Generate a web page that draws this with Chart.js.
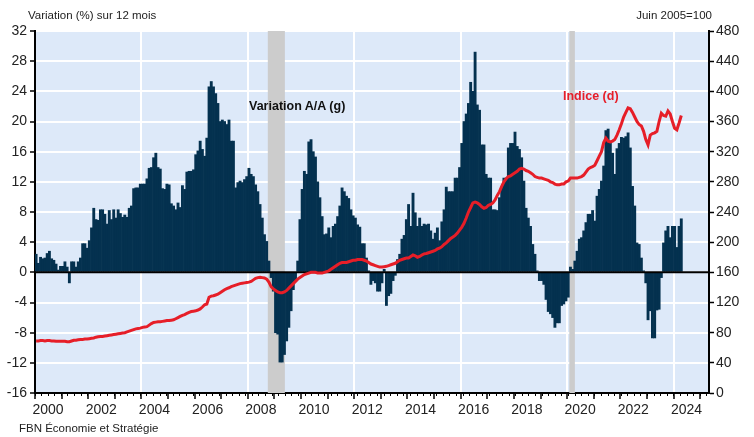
<!DOCTYPE html>
<html>
<head>
<meta charset="utf-8">
<script src="https://cdn.jsdelivr.net/npm/chart.js@4.4.1/dist/chart.umd.min.js"></script>
<style>
  body { margin: 0; background: #fff; }
  #wrap { position: relative; width: 754px; height: 437px; font-family: "Liberation Sans", Arial, sans-serif; }
  #chart { position: absolute; left: 0; top: 0; }
  .txt { position: absolute; white-space: nowrap; line-height: 1; }
</style>
</head>
<body>
<div id="wrap">
  <canvas id="chart" width="754" height="437"></canvas>
  <div class="txt" style="left:28px; top:10px; font-size:11.5px; color:#222;">Variation (%) sur 12 mois</div>
  <div class="txt" style="right:42px; top:10px; font-size:11.5px; color:#222;">Juin 2005=100</div>
  <div class="txt" style="left:249px; top:100px; font-size:12.5px; font-weight:bold; color:#111;">Variation A/A (g)</div>
  <div class="txt" style="left:563px; top:90px; font-size:12.5px; font-weight:bold; color:#e61e28;">Indice (d)</div>
  <div class="txt" style="left:19px; top:423px; font-size:11.5px; color:#222;">FBN Économie et Stratégie</div>
</div>
<script>
// ------------------ Data --------------------

var firstYear = 2000;   // monthly data, first point = Jan 2000
var axisEnd = 304;      // x axis ends ~ Apr 2025 (months since Jan 2000)

// variation sur 12 mois (%) - one line per year
var variation = [
  2.4, 1.2, 2.0, 1.8, 1.9, 2.5, 2.8, 1.8, 1.6, 1.1, 0.3, 0.8,
  0.8, 1.4, 0.7, -1.4, 1.4, 1.4, 0.7, 1.4, 1.9, 3.8, 3.8, 3.2,
  4.2, 5.9, 8.5, 7.0, 6.9, 8.3, 8.3, 7.7, 6.4, 8.2, 7.0, 8.3,
  7.2, 8.3, 7.8, 7.3, 7.6, 7.3, 8.5, 8.8, 11.1, 11.2, 11.2, 11.7,
  11.7, 11.7, 12.4, 13.8, 13.9, 15.2, 15.8, 13.9, 13.7, 11.1, 11.0, 11.7,
  11.6, 9.1, 8.8, 8.3, 9.2, 8.6, 11.5, 11.0, 13.3, 13.4, 13.4, 13.6,
  15.6, 16.1, 17.4, 16.3, 15.4, 17.8, 24.6, 25.3, 24.6, 23.7, 22.4, 20.0,
  20.2, 20.0, 19.6, 20.2, 17.4, 17.4, 11.2, 11.9, 12.1, 11.9, 12.3, 12.7,
  13.8, 13.0, 12.7, 11.6, 10.7, 9.0, 7.2, 5.0, 4.1, 1.5, -0.7, -2.5,
  -8.0, -8.2, -11.9, -11.9, -10.9, -9.1, -7.3, -5.1, -2.3, -1.1, 1.5, 7.0,
  11.0, 13.4, 13.0, 17.3, 17.6, 16.0, 15.3, 12.0, 9.9, 7.4, 5.0, 5.1,
  5.9, 4.6, 6.1, 6.4, 7.4, 8.8, 11.2, 10.7, 10.1, 9.8, 8.3, 7.5,
  7.2, 6.3, 6.0, 3.8, 3.8, 1.9, 0.2, -1.6, -1.1, -1.4, -2.5, -2.5,
  -1.4, 0.4, -4.4, -3.1, -2.8, -1.1, -0.4, 1.7, 2.4, 4.4, 4.9, 7.0,
  9.0, 6.1, 10.5, 7.9, 6.1, 7.2, 6.1, 6.4, 6.3, 6.4, 5.5, 4.4,
  5.2, 5.9, 4.2, 6.7, 8.3, 11.3, 10.7, 10.7, 10.7, 12.5, 12.5, 13.9,
  17.1, 20.0, 21.0, 22.4, 25.2, 24.0, 29.2, 22.2, 21.5, 16.9, 16.9, 13.0,
  12.5, 12.5, 8.3, 8.3, 8.2, 9.9, 11.3, 12.5, 12.5, 16.5, 17.1, 17.1,
  18.6, 16.7, 16.3, 15.2, 12.1, 8.5, 7.2, 6.1, 3.7, 2.4, 0.2, -1.1,
  -1.1, -1.6, -3.6, -5.2, -5.5, -6.0, -7.3, -6.7, -6.7, -4.4, -4.2, -3.8,
  -3.3, 0.7, 0.4, 1.5, 2.8, 4.4, 4.6, 5.5, 6.6, 7.7, 7.7, 8.2,
  6.8, 10.1, 11.0, 12.1, 14.1, 18.8, 19.0, 17.1, 15.8, 13.0, 16.4, 17.1,
  17.9, 17.8, 18.0, 18.5, 16.5, 11.4, 8.8, 3.9, 3.7, 1.9, 0.2, -1.4,
  -6.3, -5.1, -8.7, -8.7, -5.0, -4.9, -0.7, 3.9, 5.5, 6.1, 4.6, 6.1,
  6.1, 3.3, 6.1, 7.1
];

// indice (juin 2005=100) - right axis
var indice = [
  69, 69, 69.5, 69.5, 69, 69.5, 69.5, 69, 69, 68.5, 68.5, 68.5,
  68.5, 68.5, 68, 68, 69, 70, 70, 70.5, 71, 71, 71.5, 71.5,
  72, 72.5, 73, 74, 74.5, 75, 75, 75.5, 76, 76.5, 77, 77.5,
  78, 78.5, 79, 79.5, 80, 81, 82, 83, 84, 85, 85.5, 86,
  87, 87.5, 88, 90, 92, 93.5, 94, 94.5, 94.5, 95, 95.5, 96,
  96, 96.5, 97, 98.5, 100, 101.5, 103, 104, 105.5, 107, 108, 108.5,
  109, 110, 111.5, 114, 117, 118, 127, 128.5, 129, 130, 131, 133,
  135, 137, 138.5, 139.5, 141, 142, 143, 144, 145, 145.5, 146, 146.5,
  147, 148, 150, 152, 153, 153.5, 153, 152.5, 151, 147, 141, 138,
  136, 134, 133, 133, 134, 136, 139, 142, 145, 148, 151, 153,
  155, 157, 158, 159, 160, 160, 160, 159, 159, 159, 160, 161,
  162, 164, 166, 168, 170, 172, 173, 173, 173, 174, 175, 176,
  176, 177, 177, 177, 176, 175, 173, 171, 170, 169, 168, 167,
  167, 167.5, 168, 169, 170, 171, 172, 174, 176, 177, 178, 179,
  179, 181, 183, 182, 180, 181, 183, 184.5, 185, 186, 187, 188,
  189, 191, 192, 194, 197, 199, 202, 205, 207, 209, 212, 216,
  220, 225, 232, 240, 246, 252, 253, 252, 250, 247, 245, 246,
  249, 250, 252, 256, 262, 267, 274, 280, 284, 287, 288, 290,
  292, 294, 297, 298, 297, 295, 294, 292, 290, 287, 286, 285,
  285, 284, 283, 282, 280, 279, 277, 276, 276, 277, 277, 280,
  281, 285, 285, 285, 285, 286, 287, 289, 293, 297, 299, 300,
  302, 308, 314, 320, 332, 338, 334, 333, 334, 336, 342, 349,
  357, 366, 372, 378, 377, 372, 366, 360, 356, 354, 347, 336,
  329, 342, 344, 345, 347, 360, 371, 368, 367, 374, 370, 360,
  351, 349, 358, 368
];

// recessions (months since Jan 2000): Oct 2008 - May 2009, Feb 2020 - Apr 2020
var recessions = [[105, 112.7], [241, 243.5]];

var leftMin = -16, leftMax = 32, leftStep = 4;
var rightMin = 0, rightMax = 480, rightStep = 40;


// ----- INIT ------

Chart.defaults.font.family = '"Liberation Sans", Arial, sans-serif';
Chart.defaults.font.size = 14;
Chart.defaults.color = '#222';

var backdrop = {
  id: 'backdrop',
  beforeDraw: function(chart) {
    var a = chart.chartArea, c = chart.ctx;
    c.save();
    c.fillStyle = '#dde9f9';
    c.fillRect(a.left, a.top, a.right - a.left, a.bottom - a.top);
    c.restore();
  },
  beforeDatasetsDraw: function(chart) {
    var a = chart.chartArea, c = chart.ctx, xs = chart.scales.x;
    c.save();
    c.fillStyle = '#cccccc';
    recessions.forEach(function(r) {
      var x0 = xs.getPixelForValue(r[0]), x1 = xs.getPixelForValue(r[1]);
      c.fillRect(x0, a.top, x1 - x0, a.bottom - a.top);
    });
    c.restore();
  },
  afterDatasetDraw: function(chart, args) {
    if (args.meta.type !== 'bar') return;
    // zero line over the bars, under the index line
    var a = chart.chartArea, c = chart.ctx, y0 = chart.scales.y.getPixelForValue(0);
    c.save();
    c.strokeStyle = '#000';
    c.lineWidth = 2;
    c.beginPath();
    c.moveTo(a.left, y0);
    c.lineTo(a.right, y0);
    c.stroke();
    c.restore();
  }
};

var ctx = document.getElementById('chart').getContext('2d');

var chart = new Chart(ctx, {
  type: 'bar',
  data: {
    datasets: [
      {
        type: 'line',
        label: 'Indice (d)',
        data: indice.map(function(v, i) { return {x: i + 0.5, y: v}; }),
        xAxisID: 'x',
        yAxisID: 'y2',
        borderColor: '#e61e28',
        borderWidth: 3,
        pointRadius: 0,
        tension: 0,
        order: 0
      },
      {
        type: 'bar',
        label: 'Variation A/A (g)',
        data: variation.map(function(v, i) { return {x: i + 0.5, y: v}; }),
        xAxisID: 'x',
        yAxisID: 'y',
        backgroundColor: '#04314f',
        borderWidth: 0,
        barPercentage: 1,
        categoryPercentage: 1,
        order: 1
      }
    ]
  },
  options: {
    responsive: false,
    animation: false,
    devicePixelRatio: 1,
    layout: { padding: { top: 31, left: 0, right: 0, bottom: 0 } },
    plugins: { legend: { display: false }, tooltip: { enabled: false } },
    scales: {
      xm: { // quarterly minor ticks
        type: 'linear',
        axis: 'x',
        position: 'bottom',
        weight: 0,
        min: 0,
        max: axisEnd,
        afterBuildTicks: function(s) {
          var t = [];
          for (var m = 0; m <= axisEnd; m += 3) t.push({ value: m });
          s.ticks = t;
        },
        ticks: { display: false },
        grid: { drawOnChartArea: false, drawTicks: true, tickLength: 3, tickColor: '#000', tickWidth: 1 },
        border: { display: false },
        afterFit: function(s) { s.height = 0; }
      },
      x: {
        type: 'linear',
        position: 'bottom',
        weight: 1,
        min: 0,
        max: axisEnd,
        offset: false,
        afterBuildTicks: function(s) {
          var t = [];
          for (var m = 0; m <= axisEnd; m += 12) t.push({ value: m });
          s.ticks = t;
        },
        ticks: {
          autoSkip: false,
          maxRotation: 0,
          padding: 3,
          labelOffset: 13,
          callback: function(v) {
            var yr = firstYear + v / 12;
            return yr % 2 === 0 ? String(yr) : '';
          }
        },
        grid: {
          offset: false,
          lineWidth: 2,
          color: function(c) {
            var yr = firstYear + c.tick.value / 12;
            return (yr % 4 === 0 && yr > firstYear) ? '#ffffff' : 'rgba(0,0,0,0)';
          },
          tickLength: 6,
          tickColor: '#000',
          tickWidth: 1.5
        },
        border: { color: '#000', width: 2 },
        afterFit: function(s) { s.height = 44; }
      },
      y: {
        type: 'linear',
        position: 'left',
        min: leftMin,
        max: leftMax,
        ticks: { stepSize: leftStep, padding: 3 },
        grid: { color: '#ffffff', lineWidth: 2, tickColor: '#000', tickLength: 5, tickWidth: 1.5 },
        border: { color: '#000', width: 2 },
        afterFit: function(s) { s.width = 35; }
      },
      y2: {
        type: 'linear',
        axis: 'y',
        position: 'right',
        min: rightMin,
        max: rightMax,
        ticks: { stepSize: rightStep, padding: 2 },
        grid: { drawOnChartArea: false, tickColor: '#000', tickLength: 5, tickWidth: 1.5 },
        border: { color: '#000', width: 2 },
        afterFit: function(s) { s.width = 45; }
      }
    }
  },
  plugins: [backdrop]
});
</script>
</body>
</html>
